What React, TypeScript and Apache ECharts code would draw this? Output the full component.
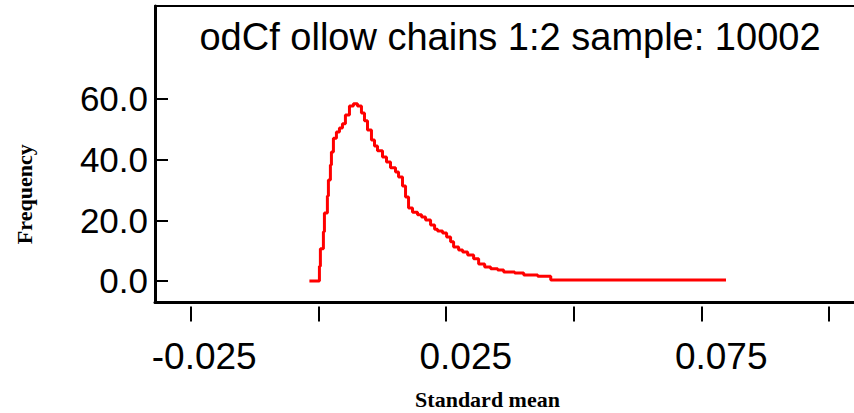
import { useEffect, useRef } from "react";
import * as echarts from "echarts";

const titleText = "odCf ollow chains 1:2 sample: 10002";
const xAxisName = "Standard mean";
const yAxisName = "Frequency";

const binStarts = [
  -0.00176, 0.0002, 0.00039, 0.00098, 0.00118, 0.00176, 0.00196, 0.00235, 0.00255, 0.00294,
  0.00353, 0.00412, 0.00471, 0.00529, 0.00608, 0.00686, 0.00765, 0.00843, 0.00902, 0.00961,
  0.01039, 0.01098, 0.01157, 0.01255, 0.01333, 0.01412, 0.0151, 0.01569, 0.01647, 0.01706,
  0.01765, 0.01843, 0.01941, 0.0202, 0.02098, 0.02196, 0.02275, 0.02333, 0.02431, 0.0251,
  0.02588, 0.02647, 0.02745, 0.02824, 0.02922, 0.03039, 0.03137, 0.03255, 0.03373, 0.0351,
  0.03627, 0.03843, 0.0402, 0.04294, 0.04549, 0.0798,
];
const frequency = [
  0, 4.9, 10.6, 16.2, 22.4, 28.0, 33.3, 38.2, 42.5, 47.1,
  49.1, 50.4, 51.8, 54.7, 57.7, 58.4, 57.7, 55.4, 52.8, 49.8,
  46.5, 44.5, 42.9, 40.9, 39.2, 37.3, 35.9, 34.3, 31.3, 27.7,
  24.1, 22.7, 21.8, 21.1, 20.1, 18.5, 17.1, 16.5, 15.8, 14.5,
  12.9, 11.2, 10.2, 9.6, 8.6, 7.3, 5.6, 4.6, 4.0, 3.6,
  3.0, 2.6, 2.0, 1.6, 0.3, 0.3,
];

const xTickValues = [-0.025, 0, 0.025, 0.05, 0.075, 0.1];
const xLabelValues = [-0.025, 0.025, 0.075];
const yTickValues = [0, 20, 40, 60];

const X_MIN = -0.03199;
const X_MAX = 0.10486;
const Y_MIN = -7.09;
const Y_MAX = 90.66;

export default function App() {
  const ref = useRef<HTMLDivElement>(null);
  useEffect(() => {
    const chart = echarts.init(ref.current!, null, { renderer: "svg" });
    const black = "#000";
    chart.setOption({
      animation: false,
      backgroundColor: "#fff",
      title: {
        text: titleText,
        left: 505,
        top: 13,
        textAlign: "center",
        textStyle: { fontFamily: "Liberation Sans", fontSize: 38, fontWeight: "normal", color: black },
      },
      grid: { left: 155, right: 0, top: 6, bottom: 110.5, containLabel: false, outerBoundsMode: "none" },
      xAxis: [
        {
          type: "value",
          min: X_MIN,
          max: X_MAX,
          position: "bottom",
          axisLine: { show: true, onZero: false, lineStyle: { color: black, width: 3 } },
          axisTick: { show: false },
          splitLine: { show: false },
          axisLabel: {
            customValues: xLabelValues,
            formatter: (v: number) => v.toFixed(3),
            align: "right",
            padding: [0, -66, 0, 0],
            margin: 35,
            fontSize: 37,
            fontFamily: "Liberation Sans",
            color: black,
          },
          name: xAxisName,
          nameLocation: "middle",
          nameGap: 86,
          nameTextStyle: {
            fontFamily: "Liberation Serif",
            fontWeight: "bold",
            fontSize: 22,
            color: black,
            padding: [0, 34, 0, 0],
          },
        },
        {
          type: "value",
          min: X_MIN,
          max: X_MAX,
          position: "bottom",
          offset: 4,
          axisLine: { show: false, onZero: false },
          axisTick: { show: true, customValues: xTickValues, length: 15, lineStyle: { color: black, width: 2 } },
          axisLabel: { show: false },
          splitLine: { show: false },
        },
        {
          type: "value",
          min: X_MIN,
          max: X_MAX,
          position: "top",
          axisLine: { show: true, onZero: false, lineStyle: { color: black, width: 2 } },
          axisTick: { show: false },
          axisLabel: { show: false },
          splitLine: { show: false },
        },
      ],
      yAxis: {
        type: "value",
        min: Y_MIN,
        max: Y_MAX,
        position: "left",
        axisLine: { show: true, onZero: false, lineStyle: { color: black, width: 3 } },
        axisTick: { show: true, customValues: yTickValues, inside: true, length: 13, lineStyle: { color: black, width: 2 } },
        axisLabel: {
          customValues: yTickValues,
          formatter: (v: number) => v.toFixed(1),
          margin: 7,
          fontSize: 35,
          fontFamily: "Liberation Sans",
          color: black,
        },
        splitLine: { show: false },
        name: yAxisName,
        nameLocation: "middle",
        nameRotate: 90,
        nameGap: 120,
        nameTextStyle: {
          fontFamily: "Liberation Serif",
          fontWeight: "bold",
          fontSize: 22,
          color: black,
          padding: [0, 80, 0, 0],
        },
      },
      series: [
        {
          type: "line",
          step: "end",
          xAxisIndex: 0,
          yAxisIndex: 0,
          data: binStarts.map((x, i) => [x, frequency[i]]),
          showSymbol: false,
          symbol: "none",
          lineStyle: { color: "#ff0000", width: 3 },
          itemStyle: { color: "#ff0000" },
        },
      ],
    });
    return () => chart.dispose();
  }, []);
  return <div ref={ref} style={{ position: "fixed", left: 0, top: 0, width: 854, height: 413 }} />;
}
